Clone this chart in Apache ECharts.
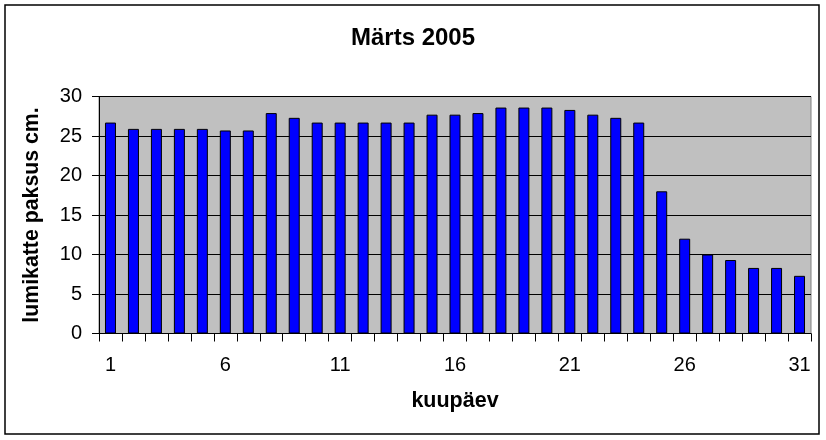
<!DOCTYPE html>
<html>
<head>
<meta charset="utf-8">
<script src="https://cdn.jsdelivr.net/npm/echarts@6/dist/echarts.min.js"></script>
<style>
  html, body { margin: 0; padding: 0; background: #fff; }
  #chart { width: 826px; height: 440px; }
</style>
</head>
<body>
<div id="chart"></div>
<script>
  // snow depth, March 2005
  const days = ['1', '2', '3', '4', '5', '6', '7', '8', '9', '10', '11', '12', '13', '14', '15', '16',
    '17', '18', '19', '20', '21', '22', '23', '24', '25', '26', '27', '28', '29', '30', '31']
  const snowDepth = [26.7, 25.9, 25.9, 25.9, 25.9, 25.7, 25.7, 27.9, 27.3, 26.7, 26.7, 26.7, 26.7, 26.7, 27.7, 27.7,
    27.9, 28.6, 28.6, 28.6, 28.3, 27.7, 27.3, 26.7, 18.0, 12.0, 10.0, 9.3, 8.3, 8.3, 7.3]
  const yTicks = { min: 0, max: 30, step: 5 }

  const font = 'Liberation Sans, Arial, sans-serif'

  let chart = echarts.init(document.getElementById('chart'))
  chart.setOption({
    animation: false,
    textStyle: { fontFamily: font },
    title: {
      text: 'Märts 2005',
      left: 'center',
      top: 21,
      textStyle: { fontFamily: font, fontSize: 24, fontWeight: 'bold', color: '#000' }
    },
    graphic: [{
      type: 'rect',
      shape: { x: 5, y: 5, width: 814, height: 429 },
      style: { fill: 'none', stroke: '#000', lineWidth: 1.5 },
      z: 100
    }],
    grid: {
      left: 99,
      right: 15,
      top: 96.5,
      bottom: 106.5,
      show: true,
      backgroundColor: '#c0c0c0',
      borderColor: '#808080',
      borderWidth: 1
    },
    xAxis: {
      type: 'category',
      data: days,
      name: 'kuupäev',
      nameLocation: 'middle',
      nameGap: 57,
      nameTextStyle: { fontFamily: font, fontSize: 21.5, fontWeight: 'bold', color: '#000' },
      axisLine: { lineStyle: { color: '#000', width: 1 } },
      axisTick: { show: true, interval: 0, length: 8, lineStyle: { color: '#000' } },
      axisLabel: { interval: 4, margin: 22, fontSize: 20, color: '#000', fontFamily: font }
    },
    yAxis: {
      type: 'value',
      min: yTicks.min,
      max: yTicks.max,
      interval: yTicks.step,
      name: 'lumikatte paksus cm.',
      nameLocation: 'middle',
      nameGap: 56,
      nameTextStyle: { fontFamily: font, fontSize: 21.3, fontWeight: 'bold', color: '#000' },
      axisLine: { show: true, lineStyle: { color: '#000', width: 1 } },
      axisTick: { show: true, length: 7, lineStyle: { color: '#000' } },
      axisLabel: { margin: 17, fontSize: 20, color: '#000', fontFamily: font },
      splitLine: { show: true, lineStyle: { color: '#000', width: 1 } }
    },
    series: [{
      type: 'bar',
      data: snowDepth,
      barWidth: 11,
      itemStyle: { color: '#0000ff', borderColor: '#000', borderWidth: 1 }
    }]
  })
</script>
</body>
</html>
